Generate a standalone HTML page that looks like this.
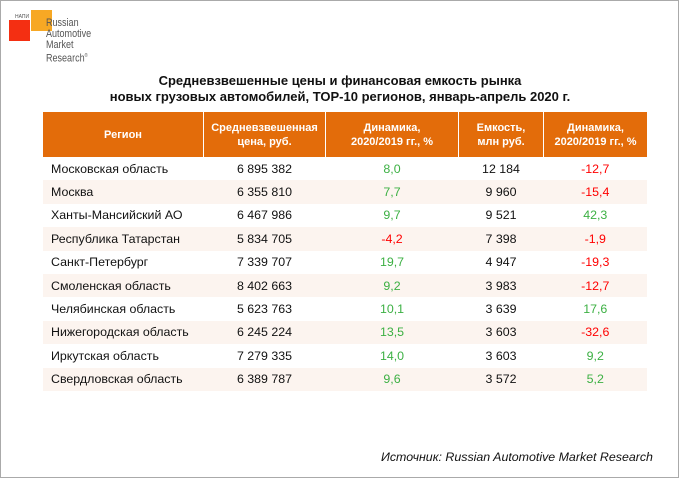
<!DOCTYPE html>
<html><head><meta charset="utf-8"><style>
body{margin:0;width:680px;height:479px;background:#fff;font-family:"Liberation Sans",sans-serif;position:relative;overflow:hidden}
.frame{position:absolute;left:0;top:0;width:677px;height:476px;border:1px solid #aaa}
.t{position:absolute;white-space:nowrap}
table{position:absolute;left:43px;top:112px;border-collapse:collapse;font-size:12.4px}
th{background:#E36C0A;color:#fff;font-size:11px;font-weight:bold;height:45px;border-left:1px solid #fff;line-height:14px;padding:0}
th:first-child{border-left:none}
td{height:23.4px;padding:0;text-align:center;color:#111}
td:first-child{text-align:left;padding-left:8px}
tr.e td{background:#FCF4EF}
.g{color:#3CB043}.r{color:#F00}
</style></head><body>
<div class="frame"></div>
<div>
<div style="position:absolute;left:31px;top:10px;width:21px;height:21px;background:#F7A824"></div>
<div style="position:absolute;left:9px;top:20px;width:21px;height:21px;background:#F42F12"></div>
<div class="t" style="left:15px;top:14px;font-size:5px;color:#555">НАПИ</div>
<div class="t" style="left:46px;top:18px;font-size:11px;line-height:11px;color:#555;transform:scaleX(0.82);transform-origin:left">Russian<br>Automotive<br>Market<br>Research<sup style="font-size:5px">®</sup></div>
</div>
<div class="t" style="left:0;width:680px;top:73px;text-align:center;font-size:13px;font-weight:bold;line-height:16px;color:#111">Средневзвешенные цены и финансовая емкость рынка<br>новых грузовых автомобилей, TOP-10 регионов, январь-апрель 2020 г.</div>
<table>
<tr><th style="width:160px">Регион</th><th style="width:121px">Средневзвешенная<br>цена, руб.</th><th style="width:132px">Динамика,<br>2020/2019 гг., %</th><th style="width:84px">Емкость,<br>млн руб.</th><th style="width:103px">Динамика,<br>2020/2019 гг., %</th></tr>
<tbody id="tb"></tbody>
</table>
<div class="t" style="left:381px;top:450px;font-size:12.4px;font-style:italic;color:#111">Источник: Russian Automotive Market Research</div>
<script>
const regions=["Московская область","Москва","Ханты-Мансийский АО","Республика Татарстан","Санкт-Петербург","Смоленская область","Челябинская область","Нижегородская область","Иркутская область","Свердловская область"];
const prices=["6 895 382","6 355 810","6 467 986","5 834 705","7 339 707","8 402 663","5 623 763","6 245 224","7 279 335","6 389 787"];
const priceDyn=[8.0,7.7,9.7,-4.2,19.7,9.2,10.1,13.5,14.0,9.6];
const capacity=["12 184","9 960","9 521","7 398","4 947","3 983","3 639","3 603","3 603","3 572"];
const capDyn=[-12.7,-15.4,42.3,-1.9,-19.3,-12.7,17.6,-32.6,9.2,5.2];
const tb=document.getElementById('tb');
const f=v=>v.toFixed(1).replace('.',',');
regions.forEach((r,i)=>{
const tr=document.createElement('tr');


if(i%2)tr.className='e';
tr.innerHTML=`<td>${r}</td><td>${prices[i]}</td><td class="${priceDyn[i]<0?'r':'g'}">${f(priceDyn[i])}</td><td>${capacity[i]}</td><td class="${capDyn[i]<0?'r':'g'}">${f(capDyn[i])}</td>`;
tb.appendChild(tr);
});
</script>
</body></html>
